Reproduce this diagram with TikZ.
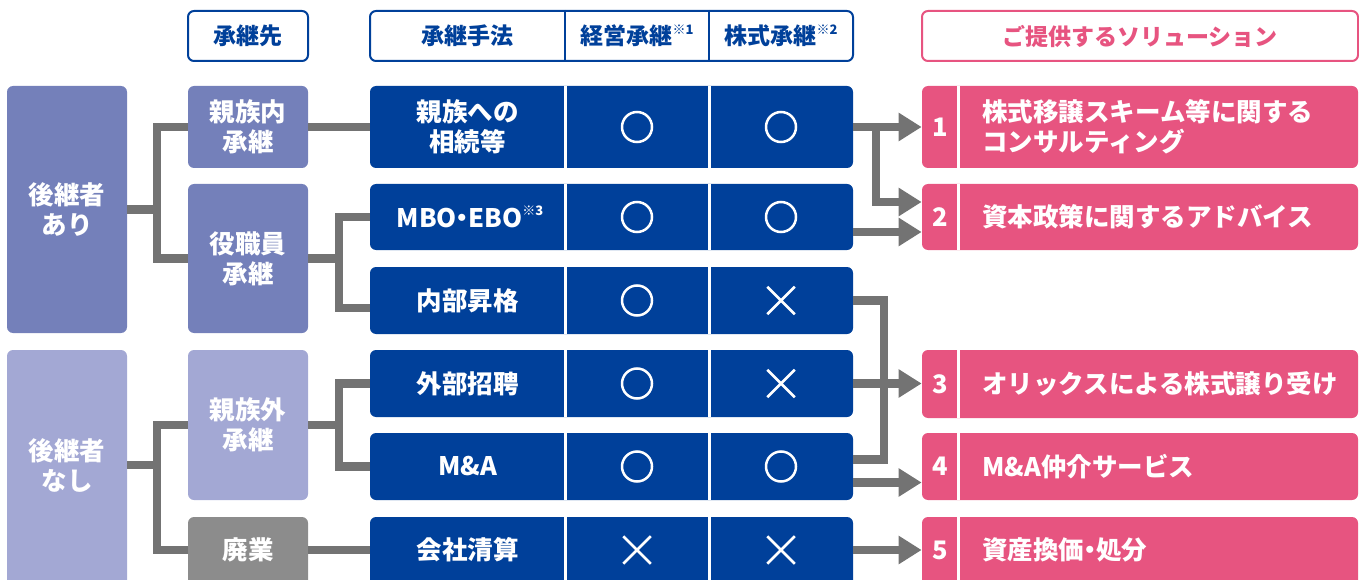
\documentclass[tikz,border=0pt]{standalone}
\usepackage{fontspec}
\setmainfont{Noto Sans CJK JP}
\usetikzlibrary{positioning,calc,arrows.meta,shapes.misc}

\definecolor{navy}{HTML}{00409A}
\definecolor{lila}{HTML}{7480BA}
\definecolor{lilahell}{HTML}{A3A8D4}
\definecolor{grau}{HTML}{8C8C8C}
\definecolor{rosa}{HTML}{E75480}
\definecolor{linie}{HTML}{737373}

\newcommand{\hinweis}[1]{\raisebox{0.45em}{\fontsize{13}{13}\selectfont ※#1}}
\newcommand{\punkt}{\kern-0.27em・\kern-0.27em}

\tikzset{
	every picture/.style={line width=0.75pt},
	box/.style={rounded corners=6pt, inner sep=0pt, align=center, text=white,
		font=\bfseries\fontsize{25.5}{30}\selectfont},
	kopf/.style={box, draw=navy, line width=2pt, fill=white, text=navy,
		minimum height=50, font=\bfseries\fontsize{23}{26}\selectfont},
	zeile/.style={box, fill=navy, minimum width=483},
	loesung/.style={box, fill=rosa, minimum width=436},
	txt/.style={inner sep=0pt, align=center, text=white,
		font=\bfseries\fontsize{25.5}{30}\selectfont},
	ja/.style={circle, draw=white, line width=2.5pt, minimum size=30, inner sep=0pt},
	nein/.style={cross out, draw=white, line width=2.5pt, minimum size=25, inner sep=0pt},
	trenn/.style={white, line width=3pt},
	link/.style={linie, line width=8.5pt},
	pfeil/.style={link, -{Triangle[length=23pt,width=27pt]}}
}

\begin{document}
\begin{tikzpicture}[x=1pt,y=-1pt]
	\useasboundingbox (0,0) rectangle (1359,580);
	\coordinate (d1) at (565,0);
	\coordinate (d2) at (709,0);
	\coordinate (d3) at (958.5,0);
	\coordinate (j1) at (157,0);
	\coordinate (j2) at (339,0);
	\coordinate (j3) at (876,0);
	\coordinate (j4) at (884,0);
	%Kopfzeile
	\node[kopf, minimum width=120] (h1) at (248,36) {承継先};
	\node[kopf, minimum width=483] (h2) at (611.5,36) {};
	\node[kopf, draw=none, fill=none] (h2a) at (467.5,36) {承継手法};
	\node[kopf, draw=none, fill=none] (h2b) at (637,36) {経営承継\hinweis{1}};
	\node[kopf, draw=none, fill=none] (h2c) at (781,36) {株式承継\hinweis{2}};
	\draw[navy, line width=2pt] (h2.north -| d1) -- (h2.south -| d1);
	\draw[navy, line width=2pt] (h2.north -| d2) -- (h2.south -| d2);
	\node[kopf, draw=rosa, text=rosa, minimum width=436] (h3) at (1140,36) {ご提供するソリューション};
	%Spalte 1
	\node[box, fill=lila, minimum width=120, minimum height=247] (ari) at (67,209.5) {後継者\\あり};
	\node[box, fill=lilahell, minimum width=120, minimum height=242] (nashi) at (67,471) {};
	\node[txt] (nashit) at (67,465) {後継者\\なし};
	%Spalte 2
	\node[box, fill=lila, minimum width=120, minimum height=82] (c1) at (248,127) {親族内\\承継};
	\node[box, fill=lila, minimum width=120, minimum height=149] (c2) at (248,258.5) {役職員\\承継};
	\node[box, fill=lilahell, minimum width=120, minimum height=150] (c3) at (248,425) {親族外\\承継};
	\node[box, fill=grau, minimum width=120, minimum height=75] (c4) at (248,554.5) {};
	\node[txt] (c4t) at (248,550) {廃業};
	%Spalte 3
	\node[zeile, minimum height=82] (r1) at (611.5,127) {};
	\node[txt] (t1) at (467.5,127) {親族への\\相続等};
	\node[ja] (a1) at (637,127) {};
	\node[ja] (b1) at (781,127) {};
	\node[zeile, minimum height=66] (r2) at (611.5,217) {};
	\node[txt] (t2) at (470,217) {MBO\punkt EBO\hinweis{3}};
	\node[ja] (a2) at (637,217) {};
	\node[ja] (b2) at (781,217) {};
	\node[zeile, minimum height=67] (r3) at (611.5,300.5) {};
	\node[txt] (t3) at (467.5,300.5) {内部昇格};
	\node[ja] (a3) at (637,300.5) {};
	\node[nein] (b3) at (781,300.5) {};
	\node[zeile, minimum height=67] (r4) at (611.5,383.5) {};
	\node[txt] (t4) at (467.5,383.5) {外部招聘};
	\node[ja] (a4) at (637,383.5) {};
	\node[nein] (b4) at (781,383.5) {};
	\node[zeile, minimum height=67] (r5) at (611.5,466.5) {};
	\node[txt] (t5) at (467.5,466.5) {M\&A};
	\node[ja] (a5) at (637,466.5) {};
	\node[ja] (b5) at (781,466.5) {};
	\node[zeile, minimum height=75] (r6) at (611.5,554.5) {};
	\node[txt] (t6) at (467.5,550) {会社清算};
	\node[nein] (a6) at (637,550) {};
	\node[nein] (b6) at (781,550) {};
	%Trennlinien
	\draw[trenn] (r1.north -| d1) -- (r1.south -| d1);
	\draw[trenn] (r1.north -| d2) -- (r1.south -| d2);
	\draw[trenn] (r2.north -| d1) -- (r2.south -| d1);
	\draw[trenn] (r2.north -| d2) -- (r2.south -| d2);
	\draw[trenn] (r3.north -| d1) -- (r3.south -| d1);
	\draw[trenn] (r3.north -| d2) -- (r3.south -| d2);
	\draw[trenn] (r4.north -| d1) -- (r4.south -| d1);
	\draw[trenn] (r4.north -| d2) -- (r4.south -| d2);
	\draw[trenn] (r5.north -| d1) -- (r5.south -| d1);
	\draw[trenn] (r5.north -| d2) -- (r5.south -| d2);
	\draw[trenn] (r6.north -| d1) -- (r6.south -| d1);
	\draw[trenn] (r6.north -| d2) -- (r6.south -| d2);
	%Loesungen
	\node[loesung, minimum height=82] (s1) at (1140,127) {};
	\node[txt] (n1) at (940,127) {1};
	\node[txt, anchor=west, align=left] (l1) at (982,127) {株式移譲スキーム等に関する\\コンサルティング};
	\node[loesung, minimum height=66] (s2) at (1140,217) {};
	\node[txt] (n2) at (940,217) {2};
	\node[txt, anchor=west] (l2) at (982,217) {資本政策に関するアドバイス};
	\node[loesung, minimum height=68] (s3) at (1140,384) {};
	\node[txt] (n3) at (940,384) {3};
	\node[txt, anchor=west] (l3) at (982,384) {オリックスによる株式譲り受け};
	\node[loesung, minimum height=67] (s4) at (1140,466.5) {};
	\node[txt] (n4) at (940,466.5) {4};
	\node[txt, anchor=west] (l4) at (982,466.5) {M\&A仲介サービス};
	\node[loesung, minimum height=75] (s5) at (1140,554.5) {};
	\node[txt] (n5) at (940,550) {5};
	\node[txt, anchor=west] (l5) at (982,550) {資産換価\punkt 処分};
	\draw[trenn] (s1.north -| d3) -- (s1.south -| d3);
	\draw[trenn] (s2.north -| d3) -- (s2.south -| d3);
	\draw[trenn] (s3.north -| d3) -- (s3.south -| d3);
	\draw[trenn] (s4.north -| d3) -- (s4.south -| d3);
	\draw[trenn] (s5.north -| d3) -- (s5.south -| d3);
	%Verbindungen links
	\coordinate (r3w) at ($(r3.west)+(0,7.5)$);
	\draw[link] (ari.east) -- (ari.east -| j1);
	\draw[link] (c1.west) -- (c1.west -| j1) -- (c2.west -| j1) -- (c2.west);
	\draw[link] (c1.east) -- (r1.west);
	\draw[link] (c2.east) -- (c2.east -| j2);
	\draw[link] (r2.west) -- (r2.west -| j2) -- (r3w -| j2) -- (r3w);
	\draw[link] (nashit -| nashi.east) -- (nashit -| j1);
	\draw[link] (c3.west) -- (c3.west -| j1) -- (c4t -| j1) -- (c4t -| c4.west);
	\draw[link] (c3.east) -- (c3.east -| j2);
	\draw[link] (r4.west) -- (r4.west -| j2) -- (r5.west -| j2) -- (r5.west);
	\draw[link] (c4t -| c4.east) -- (t6 -| r6.west);
	%Pfeile rechts
	\coordinate (s2a) at ($(s2.west)+(0,-15)$);
	\coordinate (r2b) at ($(r2.east)+(0,15)$);
	\coordinate (r5a) at ($(r5.east)+(0,-7)$);
	\coordinate (r5b) at ($(r5.east)+(0,16)$);
	\draw[pfeil] (r1.east) -- (s1.west);
	\draw[pfeil] (r1.east -| j3) |- (s2a);
	\draw[pfeil] (r2b) -- (r2b -| s2.west);
	\draw[link] (r3.east) -| (j4 |- r5a) -- (r5a);
	\draw[pfeil] (r4.east) -- (r4.east -| s3.west);
	\draw[pfeil] (r5b) -- (r5b -| s4.west);
	\draw[pfeil] (t6 -| r6.east) -- (t6 -| s5.west);
\end{tikzpicture}
\end{document}
